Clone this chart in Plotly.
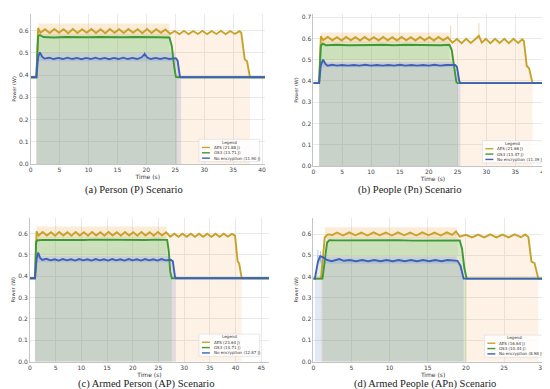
import plotly.graph_objects as go

W, H = 550, 389

# ---------------- data ----------------
series = ["AES", "GS3", "No encryption"]
captions = ["(a) Person (P) Scenario", "(b) People (Pn) Scenario",
            "(c) Armed Person (AP) Scenario", "(d) Armed People (APn) Scenario"]
energy_a = ["21.88", "13.71", "11.90"]
energy_b = ["21.66", "13.47", "11.39"]
energy_c = ["23.64", "14.71", "12.87"]
energy_d = ["16.64", "10.44", "8.98"]

x_ticks_a = [0, 5, 10, 15, 20, 25, 30, 35, 40]
x_ticks_b = [0, 5, 10, 15, 20, 25, 30, 35, 40]
x_ticks_c = [0, 5, 10, 15, 20, 25, 30, 35, 40, 45]
x_ticks_d = [0, 5, 10, 15, 20, 25, 30]
y_ticks_a = [0.0, 0.1, 0.2, 0.3, 0.4, 0.5, 0.6]
y_ticks_b = [0.0, 0.1, 0.2, 0.3, 0.4, 0.5, 0.6, 0.7]

# (time s, power W) of the smoothed traces
a_aes = [(0, 0.39), (1.0, 0.39), (1.3, 0.612), (1.7, 0.590), (2.5, 0.606), (3.3, 0.589), (4.1, 0.607),
         (4.9, 0.590), (5.7, 0.606), (6.5, 0.588), (7.3, 0.607), (8.1, 0.589), (8.9, 0.606), (9.7, 0.590),
         (10.5, 0.607), (11.3, 0.589), (12.1, 0.606), (12.9, 0.588), (13.7, 0.607), (14.5, 0.590),
         (15.3, 0.606), (16.1, 0.589), (16.9, 0.607), (17.7, 0.590), (18.5, 0.606), (19.3, 0.588),
         (20.1, 0.607), (20.9, 0.589), (21.7, 0.606), (22.5, 0.590), (23.3, 0.605), (24.1, 0.586),
         (24.9, 0.598), (25.7, 0.584), (26.5, 0.599), (27.3, 0.584), (28.1, 0.598), (28.9, 0.585),
         (29.7, 0.599), (30.5, 0.584), (31.3, 0.598), (32.1, 0.585), (32.9, 0.599), (33.7, 0.584),
         (34.5, 0.598), (35.3, 0.585), (36.1, 0.597), (36.4, 0.590), (37.0, 0.470), (37.4, 0.462),
         (37.9, 0.390), (40.5, 0.390)]
a_gs3 = [(0, 0.39), (1.0, 0.39), (1.3, 0.575), (1.6, 0.580), (2.2, 0.571), (4.0, 0.569), (6.0, 0.571),
         (8.0, 0.569), (10.0, 0.570), (12.0, 0.571), (14.0, 0.569), (16.0, 0.570), (18.0, 0.571),
         (20.0, 0.569), (22.0, 0.570), (24.0, 0.569), (24.4, 0.530), (24.8, 0.440), (25.1, 0.392),
         (25.3, 0.390), (40.5, 0.390)]
a_none = [(0, 0.39), (1.0, 0.39), (1.3, 0.480), (1.6, 0.502), (2.0, 0.483), (2.4, 0.474), (3.2, 0.478),
          (4.0, 0.472), (4.8, 0.477), (5.6, 0.472), (6.4, 0.478), (7.2, 0.472), (8.0, 0.477), (8.8, 0.471),
          (9.6, 0.477), (10.4, 0.472), (11.2, 0.478), (12.0, 0.472), (12.8, 0.477), (13.6, 0.471),
          (14.4, 0.477), (15.2, 0.472), (16.0, 0.478), (16.8, 0.472), (17.6, 0.477), (18.4, 0.472),
          (19.2, 0.480), (19.7, 0.495), (20.2, 0.478), (20.8, 0.472), (21.6, 0.477), (22.4, 0.472),
          (23.2, 0.477), (24.0, 0.472), (25.1, 0.476), (25.4, 0.465), (25.8, 0.392), (26.0, 0.390),
          (40.5, 0.390)]

b_aes = [(0, 0.39), (1.0, 0.39), (1.3, 0.610), (1.7, 0.592), (2.5, 0.607), (3.3, 0.591), (4.1, 0.606),
         (4.9, 0.590), (5.7, 0.607), (6.5, 0.591), (7.3, 0.606), (8.1, 0.590), (8.9, 0.607), (9.7, 0.591),
         (10.5, 0.606), (11.3, 0.590), (12.1, 0.607), (12.9, 0.591), (13.7, 0.606), (14.5, 0.590),
         (15.3, 0.607), (16.1, 0.591), (16.9, 0.606), (17.7, 0.590), (18.5, 0.607), (19.3, 0.591),
         (20.1, 0.606), (20.9, 0.590), (21.7, 0.607), (22.5, 0.591), (23.3, 0.605), (24.1, 0.580),
         (24.9, 0.597), (25.7, 0.578), (26.5, 0.598), (27.3, 0.579), (28.1, 0.597), (28.7, 0.612),
         (29.2, 0.580), (29.9, 0.598), (30.7, 0.578), (31.5, 0.598), (32.3, 0.579), (33.1, 0.598),
         (33.9, 0.578), (34.7, 0.598), (35.5, 0.579), (36.2, 0.596), (36.5, 0.588), (37.0, 0.470),
         (37.4, 0.460), (38.0, 0.390), (41.5, 0.390)]
b_gs3 = [(0, 0.39), (1.0, 0.39), (1.3, 0.565), (1.6, 0.575), (2.2, 0.568), (4.0, 0.570), (6.0, 0.568),
         (8.0, 0.570), (10.0, 0.569), (12.0, 0.570), (14.0, 0.568), (16.0, 0.570), (18.0, 0.569),
         (20.0, 0.570), (22.0, 0.568), (23.6, 0.570), (24.0, 0.545), (24.5, 0.450), (24.8, 0.395),
         (25.0, 0.390), (41.5, 0.390)]
b_none = [(0, 0.39), (1.0, 0.39), (1.3, 0.475), (1.7, 0.500), (2.1, 0.480), (2.5, 0.472), (3.3, 0.476),
          (4.1, 0.472), (5.0, 0.475), (6.0, 0.472), (7.0, 0.475), (8.0, 0.472), (9.0, 0.476), (10.0, 0.472),
          (11.0, 0.475), (12.0, 0.472), (13.0, 0.475), (14.0, 0.472), (15.0, 0.476), (16.0, 0.472),
          (17.0, 0.475), (18.0, 0.472), (19.0, 0.475), (20.0, 0.472), (21.0, 0.476), (22.0, 0.472),
          (23.0, 0.475), (24.6, 0.475), (24.9, 0.466), (25.3, 0.400), (25.5, 0.390), (41.5, 0.390)]

c_aes = [(0, 0.39), (1.0, 0.39), (1.3, 0.610), (1.7, 0.590), (2.5, 0.607), (3.3, 0.590), (4.1, 0.606),
         (4.9, 0.589), (5.7, 0.607), (6.5, 0.590), (7.3, 0.606), (8.1, 0.589), (8.9, 0.607), (9.7, 0.590),
         (10.5, 0.606), (11.3, 0.589), (12.1, 0.607), (12.9, 0.590), (13.7, 0.606), (14.5, 0.589),
         (15.3, 0.607), (16.1, 0.590), (16.9, 0.606), (17.7, 0.589), (18.5, 0.607), (19.3, 0.590),
         (20.1, 0.606), (20.9, 0.589), (21.7, 0.607), (22.5, 0.590), (23.3, 0.606), (24.1, 0.589),
         (24.9, 0.607), (25.7, 0.590), (26.5, 0.605), (27.3, 0.585), (28.1, 0.599), (28.9, 0.584),
         (29.7, 0.599), (30.5, 0.584), (31.3, 0.599), (32.1, 0.584), (32.9, 0.599), (33.7, 0.584),
         (34.5, 0.599), (35.3, 0.584), (36.1, 0.599), (36.9, 0.584), (37.7, 0.599), (38.5, 0.585),
         (39.3, 0.598), (39.9, 0.590), (40.4, 0.470), (40.7, 0.460), (41.2, 0.390), (46.5, 0.390)]
c_gs3 = [(0, 0.39), (1.0, 0.39), (1.2, 0.560), (1.5, 0.568), (2.5, 0.570), (4.5, 0.569), (6.5, 0.571),
         (8.5, 0.570), (10.5, 0.569), (12.5, 0.571), (14.5, 0.570), (16.5, 0.569), (18.5, 0.571),
         (20.5, 0.570), (22.5, 0.569), (24.5, 0.571), (26.7, 0.570), (27.0, 0.520), (27.3, 0.420),
         (27.6, 0.390), (46.5, 0.390)]
c_none = [(0, 0.39), (1.0, 0.39), (1.3, 0.480), (1.6, 0.510), (2.0, 0.485), (2.4, 0.476), (3.2, 0.481),
          (4.0, 0.474), (4.8, 0.479), (5.6, 0.473), (6.4, 0.480), (7.2, 0.474), (8.0, 0.479), (8.8, 0.473),
          (9.6, 0.480), (10.4, 0.474), (11.2, 0.479), (12.0, 0.473), (12.8, 0.480), (13.6, 0.474),
          (14.4, 0.479), (15.2, 0.473), (16.0, 0.480), (16.8, 0.474), (17.6, 0.479), (18.4, 0.473),
          (19.2, 0.480), (20.0, 0.474), (20.8, 0.479), (21.6, 0.473), (22.4, 0.480), (23.2, 0.474),
          (24.0, 0.479), (24.8, 0.473), (25.6, 0.480), (26.4, 0.474), (27.4, 0.477), (27.8, 0.470),
          (28.2, 0.400), (28.4, 0.390), (46.5, 0.390)]

d_aes = [(0, 0.39), (1.0, 0.39), (1.5, 0.585), (1.9, 0.598), (2.5, 0.595), (3.1, 0.607), (3.9, 0.593),
         (4.7, 0.608), (5.5, 0.594), (6.3, 0.607), (7.1, 0.593), (7.9, 0.608), (8.7, 0.594), (9.5, 0.607),
         (10.3, 0.593), (11.1, 0.608), (11.9, 0.594), (12.7, 0.607), (13.5, 0.593), (14.3, 0.608),
         (15.1, 0.594), (15.9, 0.607), (16.7, 0.593), (17.5, 0.608), (18.2, 0.596), (18.7, 0.612),
         (19.2, 0.588), (20.0, 0.596), (20.8, 0.584), (21.6, 0.597), (22.4, 0.584), (23.2, 0.598),
         (24.0, 0.584), (24.8, 0.597), (25.6, 0.584), (26.4, 0.598), (27.2, 0.585), (27.8, 0.598),
         (28.2, 0.585), (28.6, 0.470), (29.0, 0.463), (29.5, 0.390), (31.4, 0.390)]
d_gs3 = [(0, 0.39), (1.2, 0.39), (1.8, 0.560), (2.1, 0.571), (3.0, 0.570), (5.0, 0.571), (7.0, 0.569),
         (9.0, 0.570), (11.0, 0.571), (13.0, 0.569), (15.0, 0.570), (17.0, 0.571), (19.2, 0.570),
         (19.5, 0.530), (19.8, 0.440), (20.1, 0.390), (31.4, 0.390)]
d_none = [(0, 0.39), (0.2, 0.39), (0.6, 0.470), (0.9, 0.496), (1.3, 0.490), (1.8, 0.478), (2.4, 0.472),
          (3.0, 0.476), (3.4, 0.482), (4.0, 0.474), (4.8, 0.478), (5.6, 0.472), (6.4, 0.478), (7.2, 0.472),
          (8.0, 0.478), (8.8, 0.472), (9.6, 0.478), (10.4, 0.472), (11.2, 0.478), (12.0, 0.472),
          (12.8, 0.478), (13.6, 0.472), (14.4, 0.478), (15.2, 0.472), (16.0, 0.478), (16.8, 0.472),
          (17.6, 0.478), (18.9, 0.474), (19.3, 0.450), (19.7, 0.390), (31.4, 0.390)]

# shaded energy windows (start, end) per series: AES, GS3, No encryption
fill_a = [(1.0, 37.9), (1.0, 25.3), (1.0, 26.0)]
fill_b = [(1.0, 38.0), (1.0, 25.0), (1.0, 25.5)]
fill_c = [(1.0, 41.2), (1.0, 27.6), (1.0, 28.4)]
fill_d = [(1.0, 29.5), (1.2, 20.1), (0.2, 19.7)]

# envelope of the raw (unsmoothed) samples: (start, end, low, high)
raw_a = [(1.3, 24.0, 0.575, 0.632), (1.3, 24.0, 0.500, 0.585), (1.3, 25.0, 0.462, 0.500)]
raw_b = [(1.3, 23.6, 0.578, 0.628), (1.3, 23.6, 0.500, 0.585), (1.3, 24.5, 0.465, 0.490)]
raw_c = [(1.3, 26.6, 0.578, 0.632), (1.3, 26.6, 0.500, 0.585), (1.3, 27.4, 0.465, 0.495)]
raw_d = [(1.5, 18.8, 0.580, 0.632), (1.8, 19.0, 0.500, 0.585), (0.5, 18.8, 0.460, 0.495)]

# isolated raw spikes: (time, base, top, series index)
spikes_a = [(19.7, 0.48, 0.505, 2)]
spikes_b = [(23.8, 0.60, 0.661, 0), (28.7, 0.60, 0.672, 0)]
spikes_c = [(1.6, 0.49, 0.515, 2)]
spikes_d = [(0.6, 0.47, 0.525, 2), (0.95, 0.47, 0.52, 2)]

# ---------------- styling ----------------
line_colors = ["#c8a228", "#3c9a36", "#3d60b8"]
fill_colors = ["rgba(248,170,100,0.16)", "rgba(70,170,70,0.16)", "rgba(70,100,190,0.15)"]
raw_colors = ["rgba(240,175,90,0.24)", "rgba(120,205,120,0.20)", "rgba(90,130,230,0.18)"]
spike_colors = ["rgba(220,170,60,0.6)", "rgba(90,180,90,0.6)", "rgba(90,130,230,0.6)"]

panels = [
    dict(lines=[a_aes, a_gs3, a_none], fill=fill_a, raw=raw_a, spikes=spikes_a, energy=energy_a,
         xt=x_ticks_a, yt=y_ticks_a, xr=[0, 40.5], yr=[0, 0.675],
         px=(20.7, 256.4, 156.5, 5.0), leg=(190, 131.7), cap=(124.7, 182.7)),
    dict(lines=[b_aes, b_gs3, b_none], fill=fill_b, raw=raw_b, spikes=spikes_b, energy=energy_b,
         xt=x_ticks_b, yt=y_ticks_b, xr=[0, 41.5], yr=[0, 0.715],
         px=(305.0, 545.7, 158.7, 5.0), leg=(475, 133.0), cap=(401.7, 182.7)),
    dict(lines=[c_aes, c_gs3, c_none], fill=fill_c, raw=raw_c, spikes=spikes_c, energy=energy_c,
         xt=x_ticks_c, yt=y_ticks_a, xr=[0, 46.5], yr=[0, 0.673],
         px=(20.0, 260.4, 356.3, 211.0), leg=(190, 328.5), cap=(136.7, 379.0)),
    dict(lines=[d_aes, d_gs3, d_none], fill=fill_d, raw=raw_d, spikes=spikes_d, energy=energy_d,
         xt=x_ticks_d, yt=y_ticks_a, xr=[0, 31.4], yr=[0, 0.676],
         px=(305.0, 545.8, 356.3, 211.0), leg=(477, 329.5), cap=(417.3, 379.0)),
]


def px2x(p):
    return p / W


def px2y(p):
    return 1 - p / H


fig = go.Figure()
shapes, annotations = [], []
layout = {}

for i, P in enumerate(panels):
    xa = "x" if i == 0 else f"x{i + 1}"
    ya = "y" if i == 0 else f"y{i + 1}"
    common = dict(xaxis=xa, yaxis=ya, showlegend=False, hoverinfo="skip")

    # shaded areas under each curve
    for k in range(3):
        f0, f1 = P["fill"][k]
        pts = [p for p in P["lines"][k] if f0 <= p[0] <= f1]
        fig.add_trace(go.Scatter(x=[p[0] for p in pts], y=[p[1] for p in pts], mode="lines",
                                 line=dict(width=0), fill="tozeroy", fillcolor=fill_colors[k], **common))
    # raw sample envelopes
    for k in [1, 0, 2]:
        t0, t1, lo, hi = P["raw"][k]
        fig.add_trace(go.Scatter(x=[t0, t1], y=[lo, lo], mode="lines", line=dict(width=0), **common))
        fig.add_trace(go.Scatter(x=[t0, t1], y=[hi, hi], mode="lines", line=dict(width=0),
                                 fill="tonexty", fillcolor=raw_colors[k], **common))
    for (t, b, top, k) in P["spikes"]:
        fig.add_trace(go.Scatter(x=[t, t], y=[b, top], mode="lines",
                                 line=dict(width=0.8, color=spike_colors[k]), **common))
    # smoothed curves
    for k in range(3):
        pts = P["lines"][k]
        fig.add_trace(go.Scatter(x=[p[0] for p in pts], y=[p[1] for p in pts], mode="lines",
                                 line=dict(width=1.9, color=line_colors[k]), name=series[k], **common))

    x0p, x1p, ybp, ytp = P["px"]
    axis_font = dict(family="DejaVu Sans", size=6, color="#444444")
    layout["xaxis" if i == 0 else f"xaxis{i + 1}"] = dict(
        domain=[px2x(x0p), px2x(x1p)], range=P["xr"], anchor=ya, tickvals=P["xt"],
        showgrid=True, gridcolor="#e9e9e9", gridwidth=0.6, zeroline=False,
        showline=True, linecolor="#c4c4c4", linewidth=0.8, ticks="", tickfont=axis_font,
        title=dict(text="Time (s)", font=dict(family="DejaVu Sans", size=6, color="#333333"), standoff=1))
    layout["yaxis" if i == 0 else f"yaxis{i + 1}"] = dict(
        domain=[px2y(ybp), px2y(ytp)], range=P["yr"], anchor=xa, tickvals=P["yt"], tickformat=".1f",
        showgrid=True, gridcolor="#e9e9e9", gridwidth=0.6, zeroline=False,
        showline=True, linecolor="#c4c4c4", linewidth=0.8, ticks="", tickfont=axis_font,
        title=dict(text="Power (W)", font=dict(family="DejaVu Sans", size=5, color="#333333"), standoff=2))

    # legend box (drawn in figure coordinates)
    lx, ly = P["leg"]
    lw, lh = 61, 22.5
    shapes.append(dict(type="rect", xref="paper", yref="paper", x0=px2x(lx), x1=px2x(lx + lw),
                       y0=px2y(ly + lh), y1=px2y(ly), fillcolor="rgba(255,255,255,0.85)",
                       line=dict(color="#d8d8d8", width=0.6), layer="above"))
    annotations.append(dict(xref="paper", yref="paper", x=px2x(lx + lw / 2), y=px2y(ly + 2.8),
                            text="Legend", showarrow=False, xanchor="center", yanchor="middle",
                            font=dict(family="DejaVu Sans", size=4, color="#333333")))
    for k in range(3):
        ry = ly + 8.2 + k * 5.4
        shapes.append(dict(type="line", xref="paper", yref="paper", x0=px2x(lx + 3), x1=px2x(lx + 11),
                           y0=px2y(ry), y1=px2y(ry), line=dict(color=line_colors[k], width=1.4),
                           layer="above"))
        annotations.append(dict(xref="paper", yref="paper", x=px2x(lx + 13), y=px2y(ry),
                                text=f"{series[k]} ({P['energy'][k]} J)", showarrow=False,
                                xanchor="left", yanchor="middle",
                                font=dict(family="DejaVu Sans", size=4, color="#333333")))
    # caption
    cx, cy = P["cap"]
    annotations.append(dict(xref="paper", yref="paper", x=px2x(cx), y=px2y(cy), text=captions[i],
                            showarrow=False, xanchor="center", yanchor="middle",
                            font=dict(family="Liberation Serif", size=10.5, color="#222222")))

fig.update_layout(
    width=W, height=H, margin=dict(l=0, r=0, t=0, b=0),
    paper_bgcolor="white", plot_bgcolor="white", showlegend=False,
    shapes=shapes, annotations=annotations, **layout)

fig.write_html("out.html")
